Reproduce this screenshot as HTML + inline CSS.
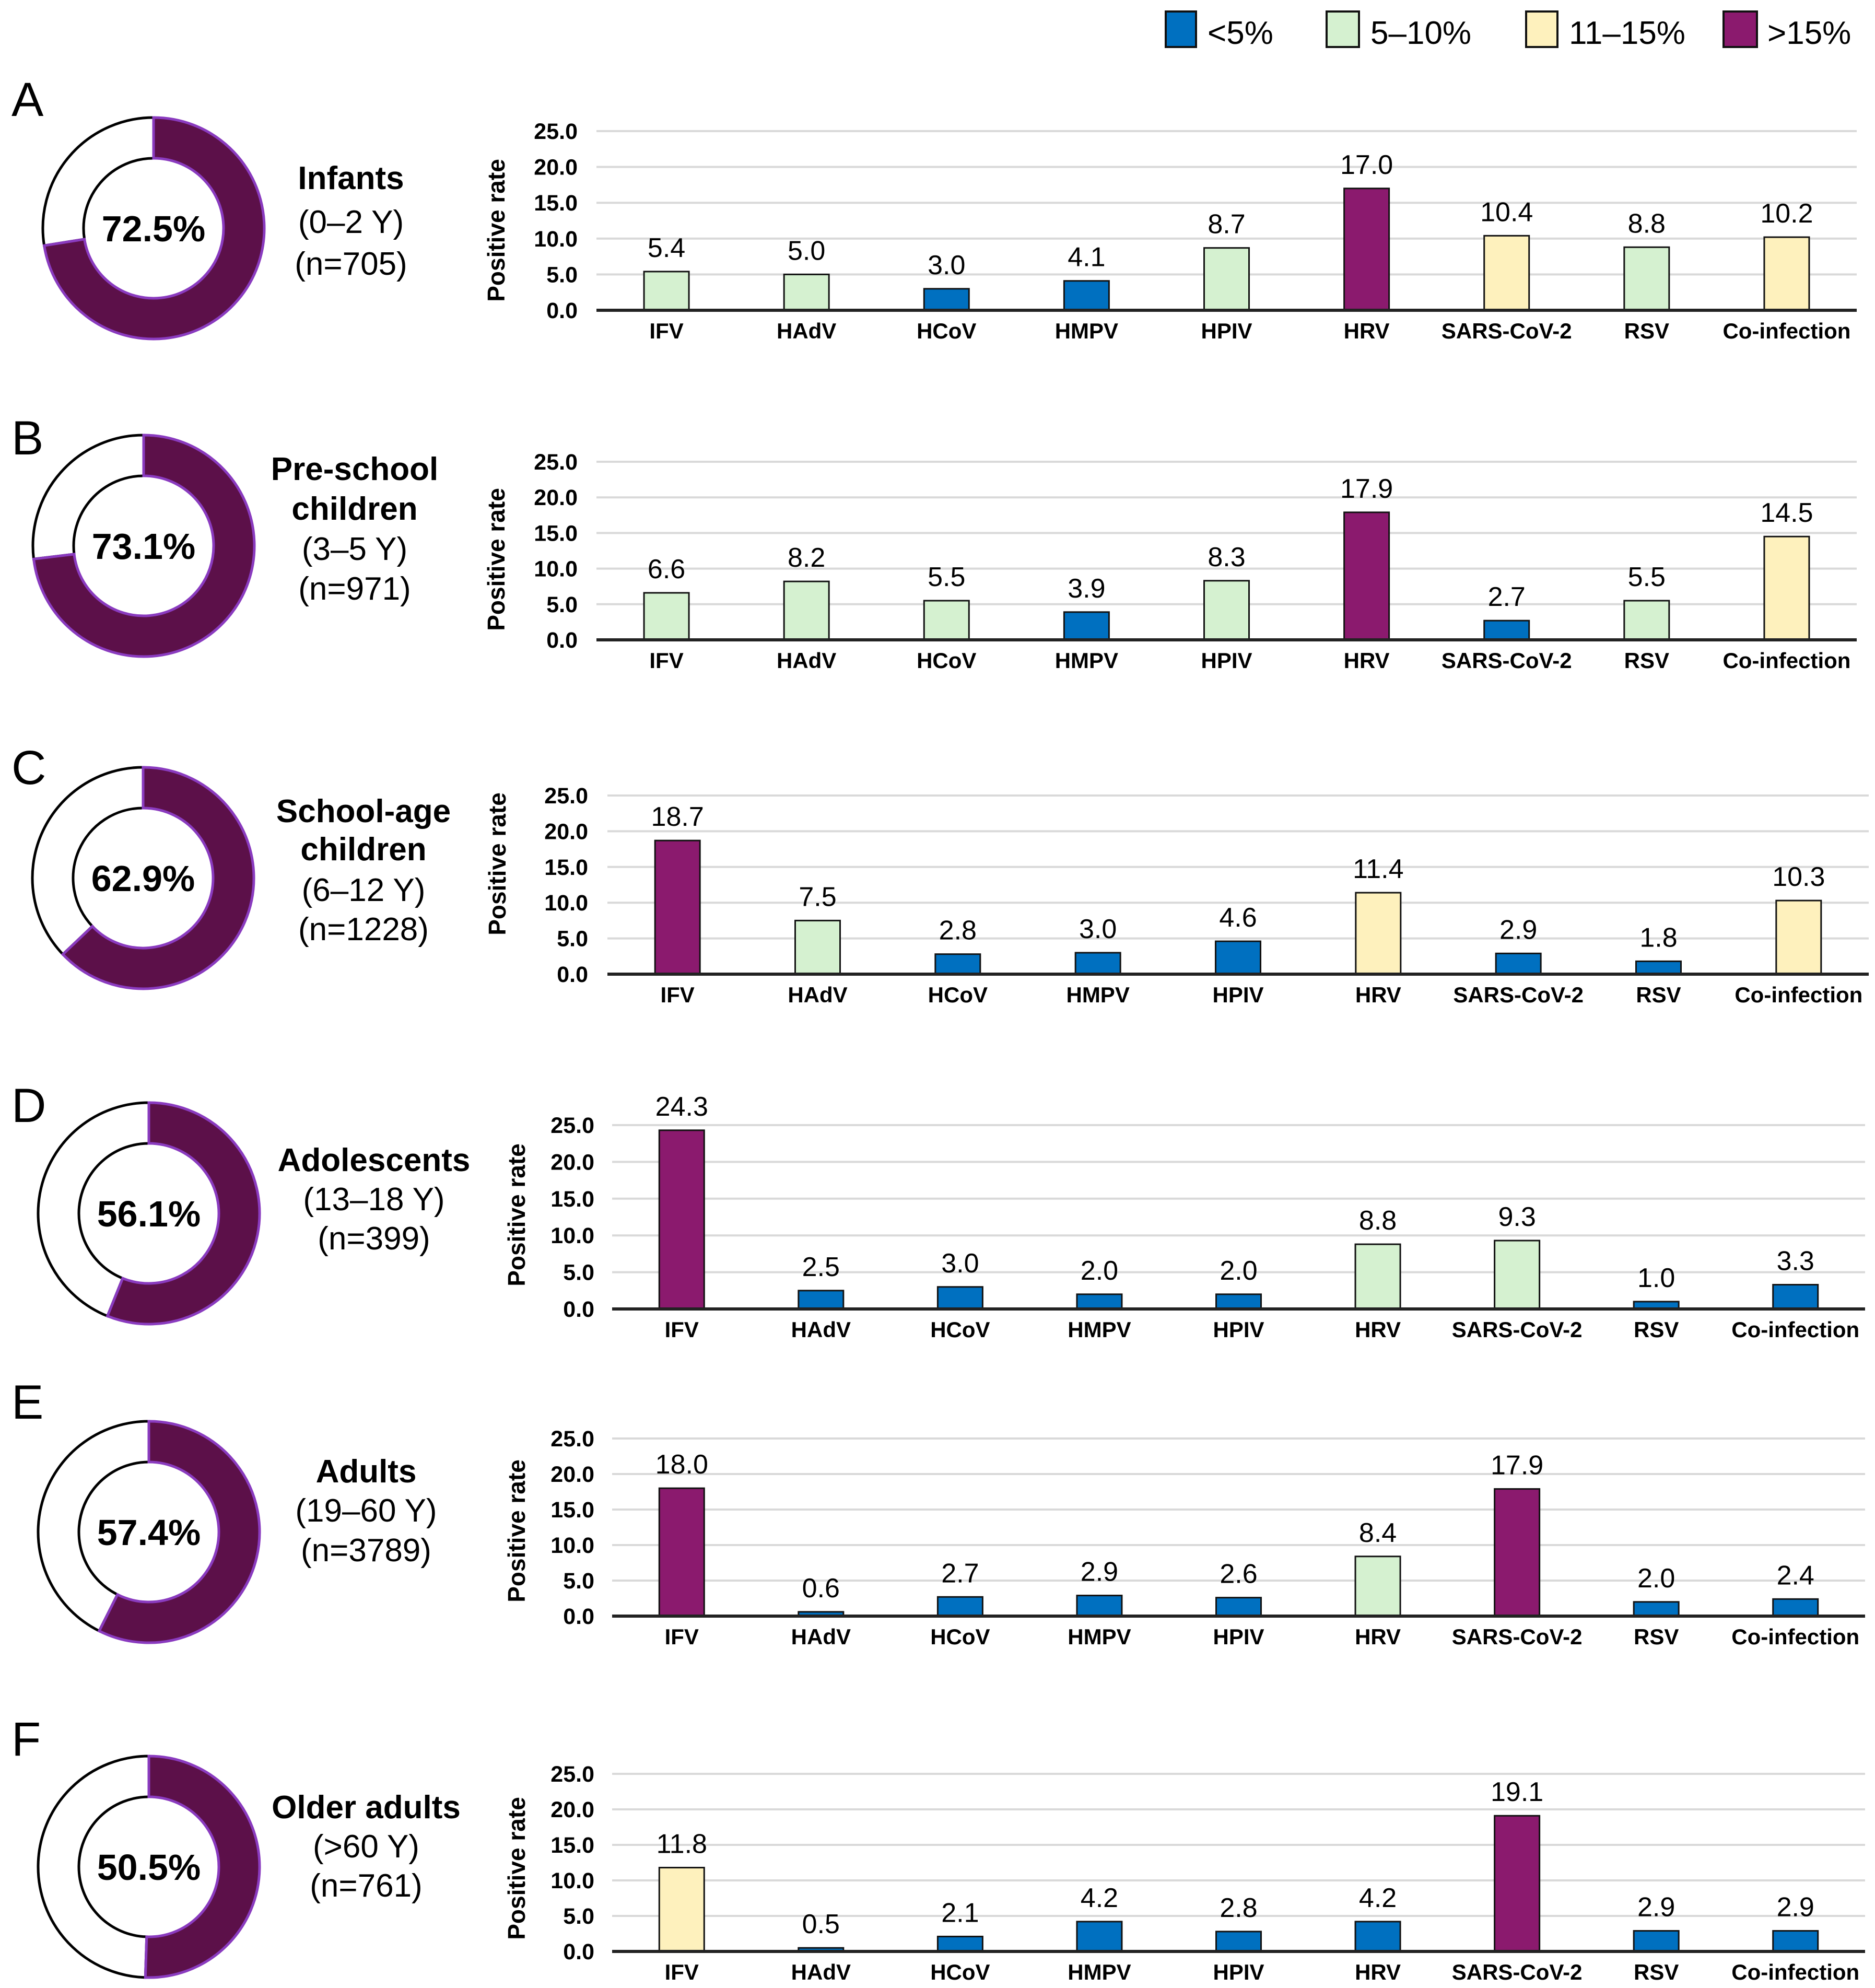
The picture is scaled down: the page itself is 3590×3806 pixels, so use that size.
<!DOCTYPE html>
<html><head><meta charset="utf-8">
<style>
html,body{margin:0;padding:0;background:#fff;}
svg{display:block;font-family:"Liberation Sans",Arial,sans-serif;}
</style></head>
<body>
<svg id="fig" width="3590" height="3806" viewBox="0 0 3590 3806" xmlns="http://www.w3.org/2000/svg">
  <g>
    <rect x="2232" y="22" width="58" height="68" fill="#0070c0" stroke="#111" stroke-width="4"/>
    <text x="2312" y="84" font-size="62">&lt;5%</text>
    <rect x="2540" y="22" width="62" height="68" fill="#d5f1d0" stroke="#111" stroke-width="4"/>
    <text x="2624" y="84" font-size="62">5–10%</text>
    <rect x="2922" y="22" width="60" height="68" fill="#fef1bd" stroke="#111" stroke-width="4"/>
    <text x="3004" y="84" font-size="62">11–15%</text>
    <rect x="3300" y="22" width="64" height="68" fill="#8b1a6e" stroke="#111" stroke-width="4"/>
    <text x="3384" y="84" font-size="62">&gt;15%</text>
  </g>
</svg>
<script>
const categories = ["IFV","HAdV","HCoV","HMPV","HPIV","HRV","SARS-CoV-2","RSV","Co-infection"];
const yTicks = [0,5,10,15,20,25];
const tickLabels = ["0.0","5.0","10.0","15.0","20.0","25.0"];
const valuesA = [5.4,5.0,3.0,4.1,8.7,17.0,10.4,8.8,10.2];
const valuesB = [6.6,8.2,5.5,3.9,8.3,17.9,2.7,5.5,14.5];
const valuesC = [18.7,7.5,2.8,3.0,4.6,11.4,2.9,1.8,10.3];
const valuesD = [24.3,2.5,3.0,2.0,2.0,8.8,9.3,1.0,3.3];
const valuesE = [18.0,0.6,2.7,2.9,2.6,8.4,17.9,2.0,2.4];
const valuesF = [11.8,0.5,2.1,4.2,2.8,4.2,19.1,2.9,2.9];
const donutPercents = [72.5,73.1,62.9,56.1,57.4,50.5];
const panelLetters = ["A","B","C","D","E","F"];
const groupTitles = [["Infants"],["Pre-school","children"],["School-age","children"],["Adolescents"],["Adults"],["Older adults"]];
const groupSubs = [["(0–2 Y)","(n=705)"],["(3–5 Y)","(n=971)"],["(6–12 Y)","(n=1228)"],["(13–18 Y)","(n=399)"],["(19–60 Y)","(n=3789)"],["(>60 Y)","(n=761)"]];
const allValues = [valuesA,valuesB,valuesC,valuesD,valuesE,valuesF];

// layout (pixel geometry, not data)
const layout = [
 {y0:594,y25:251,x0:1142,x1:3555,tickR:1106,titleX:950,titleY:441,dc:[294,437],tx:672,ty:[340],sy:[424,504],ly:189},
 {y0:1225,y25:884,x0:1142,x1:3555,tickR:1106,titleX:950,titleY:1071,dc:[275,1045],tx:679,ty:[897,973],sy:[1050,1126],ly:837},
 {y0:1865,y25:1523,x0:1163,x1:3578,tickR:1126,titleX:952,titleY:1654,dc:[274,1681],tx:696,ty:[1552,1625],sy:[1703,1778],ly:1468},
 {y0:2506,y25:2154,x0:1172,x1:3571,tickR:1138,titleX:989,titleY:2326,dc:[285,2323],tx:716,ty:[2220],sy:[2295,2370],ly:2115},
 {y0:3094,y25:2754,x0:1172,x1:3571,tickR:1138,titleX:989,titleY:2931,dc:[285,2933],tx:701,ty:[2816],sy:[2891,2967],ly:2683},
 {y0:3736,y25:3396,x0:1172,x1:3571,tickR:1138,titleX:989,titleY:3577,dc:[285,3574],tx:701,ty:[3459],sy:[3534,3609],ly:3328}
];

const NS="http://www.w3.org/2000/svg";
const svg=document.getElementById("fig");
function mk(tag,attrs,parent){const e=document.createElementNS(NS,tag);for(const k in attrs)e.setAttribute(k,attrs[k]);(parent||svg).appendChild(e);return e;}
function colorFor(v){if(v<5)return"#0070c0";if(v<=10)return"#d5f1d0";if(v<=15)return"#fef1bd";return"#8b1a6e";}

layout.forEach((L,p)=>{
  const vals=allValues[p];
  const g=mk("g",{});
  
  
  const yScale=v=>L.y0-(v/25)*(L.y0-L.y25);
  const band=(L.x1-L.x0)/categories.length;
  const xCenter=i=>L.x0+band*(i+0.5);

  const letter=mk("text",{x:22,y:L.ly+33,"font-size":"92"},g);
  letter.textContent=panelLetters[p];
  
  

  // donut
  const [cx,cy]=L.dc, R=212, r=134, frac=donutPercents[p]/100;
  const ringR=(R+r)/2, sw=R-r;
  const circ=2*Math.PI*ringR;
  const bg=mk("circle",{cx:cx,cy:cy,r:ringR,fill:"none",stroke:"#fff","stroke-width":sw},g);
  
  
  const ang=frac*2*Math.PI;
  const ax=(rad,a)=>cx+rad*Math.sin(a), ay=(rad,a)=>cy-rad*Math.cos(a);
  const large=frac>0.5?1:0;
  const dPos=`M${ax(R,0)},${ay(R,0)} A${R},${R} 0 ${large} 1 ${ax(R,ang)},${ay(R,ang)} L${ax(r,ang)},${ay(r,ang)} A${r},${r} 0 ${large} 0 ${ax(r,0)},${ay(r,0)} Z`;
  const dNeg=`M${ax(R,ang)},${ay(R,ang)} A${R},${R} 0 ${1-large} 1 ${ax(R,2*Math.PI)},${ay(R,2*Math.PI)} L${ax(r,0)},${ay(r,0)} A${r},${r} 0 ${1-large} 0 ${ax(r,ang)},${ay(r,ang)} Z`;
  const neg=mk("path",{d:dNeg,fill:"#fff",stroke:"#000","stroke-width":5},g);
  
  
  const pos=mk("path",{d:dPos,fill:"#5c1049",stroke:"#8a3bbf","stroke-width":5},g);
  
  
  const pt=mk("text",{x:cx,y:cy+25,"font-size":"70","font-weight":"bold","text-anchor":"middle"},g);
  pt.textContent=donutPercents[p].toFixed(1)+"%";
  
  

  groupTitles[p].forEach((t,i)=>{
    const e=mk("text",{x:L.tx,y:L.ty[i]+22,"font-size":"62","font-weight":"bold","text-anchor":"middle"},g);
    e.textContent=t;
    
    
  });
  groupSubs[p].forEach((t,i)=>{
    const e=mk("text",{x:L.tx,y:L.sy[i]+22,"font-size":"62","text-anchor":"middle"},g);
    e.textContent=t;
    
    
  });

  // grid + ticks
  yTicks.forEach((t,i)=>{
    if(t>0){
      const gl=mk("line",{x1:L.x0,x2:L.x1,y1:yScale(t),y2:yScale(t),stroke:"#d9d9d9","stroke-width":4},g);
      
      
    }
    const tl=mk("text",{x:L.tickR,y:yScale(t)+15,"font-size":"43","font-weight":"bold","text-anchor":"end"},g);
    tl.textContent=tickLabels[i];
    
    
  });
  const yt=mk("text",{x:L.titleX,y:L.titleY,"font-size":"46","font-weight":"bold","text-anchor":"middle",transform:`rotate(-90 ${L.titleX} ${L.titleY})`,"dominant-baseline":"central"},g);
  yt.textContent="Positive rate";
  
  

  // bars
  const bw=86;
  vals.forEach((v,i)=>{
    const xc=xCenter(i), top=yScale(v);
    const b=mk("rect",{x:xc-bw/2,y:top,width:bw,height:L.y0-top,fill:colorFor(v),stroke:"#111","stroke-width":3},g);
    
    
    const vl=mk("text",{x:xc,y:top-28,"font-size":"52","text-anchor":"middle"},g);
    vl.textContent=v.toFixed(1);
    
    
    const cl=mk("text",{x:xc,y:L.y0+54,"font-size":"42","font-weight":"bold","text-anchor":"middle"},g);
    cl.textContent=categories[i];
    
    
  });
  const axis=mk("line",{x1:L.x0,x2:L.x1,y1:L.y0,y2:L.y0,stroke:"#222","stroke-width":6},g);
  
  
});
</script>
</body></html>
